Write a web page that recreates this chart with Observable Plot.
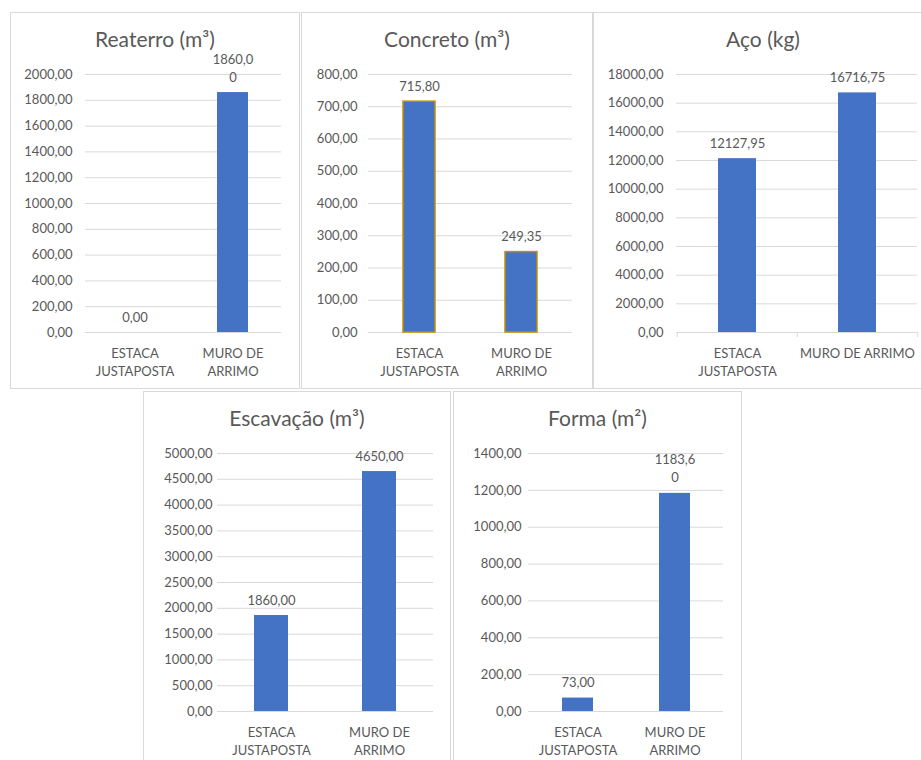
<!DOCTYPE html>
<html>
<head>
<meta charset="utf-8">
<script src="https://cdn.jsdelivr.net/npm/d3@7"></script>
<script src="https://cdn.jsdelivr.net/npm/@observablehq/plot@0.6"></script>
<style>
  html, body { margin: 0; padding: 0; background: #fff; overflow: hidden; }
  #root { position: relative; width: 921px; height: 760px; overflow: hidden; }
  .panel { position: absolute; box-shadow: inset 0 0 0 1px #d9d9d9; background: #fff; }
  .panel svg { position: absolute; left: 0; top: 0; }
  .title { position: absolute; left: 0; right: 0; top: 15px; text-align: center;
           font-family: Lato, "Open Sans", sans-serif; font-size: 21px; line-height: 24px; color: #595959; }
</style>
</head>
<body>
<div id="root"></div>
<script>
// ---- data ----
const categories = ["ESTACA JUSTAPOSTA", "MURO DE ARRIMO"];
const titles = ["Reaterro (m³)", "Concreto (m³)", "Aço (kg)", "Escavação (m³)", "Forma (m²)"];
const reaterro = [0.00, 1860.00];
const concreto = [715.80, 249.35];
const aco = [12127.95, 16716.75];
const escavacao = [1860.00, 4650.00];
const forma = [73.00, 1183.60];
const yMax = [2000, 800, 18000, 5000, 1400];
const yStep = [200, 100, 2000, 500, 200];

const series = [reaterro, concreto, aco, escavacao, forma];

// ---- layout / style ----
const layout = [
  {left: 10,  top: 12,  width: 290, height: 377, mL: 75, mR: 19, mT: 62, mB: 57, tickPad: 13, catWrap: 7,   valWrap: 6},
  {left: 301, top: 12,  width: 292, height: 377, mL: 67, mR: 21, mT: 62, mB: 57, tickPad: 11, catWrap: 7,   valWrap: 99, stroke: "#BF9000"},
  {left: 593, top: 12,  width: 340, height: 377, mL: 83, mR: 16, mT: 62, mB: 57, tickPad: 13, catWrap: 9.5, valWrap: 99, xTicks: true},
  {left: 143, top: 391, width: 308, height: 375, mL: 74, mR: 18, mT: 62, mB: 55, tickPad: 5,  catWrap: 7,   valWrap: 99},
  {left: 453, top: 391, width: 289, height: 375, mL: 75, mR: 19, mT: 62, mB: 55, tickPad: 7,  catWrap: 7,   valWrap: 6}
];

const fmt = v => v.toFixed(2).replace(".", ",");
const TEXT = "#595959";
const GRID = "#d9d9d9";
const BLUE = "#4472C4";
const PAD = 0.685;

const root = document.getElementById("root");

series.forEach((vals, k) => {
  const L = layout[k];
  const data = categories.map((c, i) => ({cat: c, value: vals[i]}));
  const ticks = d3.range(0, yMax[k] + yStep[k] / 2, yStep[k]);
  const label = v => {
    const s = fmt(v);
    return s.length > L.valWrap ? s.slice(0, L.valWrap) + "\n" + s.slice(L.valWrap) : s;
  };
  const step = (L.width - L.mL - L.mR) / categories.length;

  const marks = [
    Plot.gridY(ticks, {stroke: GRID, strokeOpacity: 1, strokeWidth: 1}),
    Plot.axisY({ticks, tickSize: 0, tickPadding: L.tickPad, tickFormat: fmt, fill: TEXT, fontSize: 13}),
    Plot.axisX({tickSize: 0, tickPadding: 12.5, lineWidth: L.catWrap, lineHeight: 1.38, fill: TEXT, fontSize: 13})
  ];
  if (L.xTicks) {
    marks.push(
      Plot.ruleX(categories, {x: d => d, dx: -step / 2, y1: 0, y2: 0, insetBottom: -5, stroke: GRID}),
      Plot.ruleX(categories.slice(-1), {x: d => d, dx: step / 2, y1: 0, y2: 0, insetBottom: -5, stroke: GRID})
    );
  }
  marks.push(
    Plot.barY(data, {x: "cat", y: "value", fill: BLUE,
      stroke: L.stroke || "none", strokeWidth: L.stroke ? 1.5 : 0}),
    Plot.text(data, {x: "cat", y: "value", text: d => label(d.value), dy: -11,
      lineAnchor: "bottom", lineHeight: 1.38, fill: TEXT, fontSize: 13})
  );

  const chart = Plot.plot({
    width: L.width,
    height: L.height,
    marginLeft: L.mL, marginRight: L.mR, marginTop: L.mT, marginBottom: L.mB,
    x: {domain: categories, paddingInner: PAD, paddingOuter: PAD / 2, label: null},
    y: {domain: [0, yMax[k]], label: null},
    style: {fontFamily: "Lato, 'Open Sans', sans-serif", fontSize: "13px", color: TEXT, background: "transparent", overflow: "visible"},
    marks
  });

  const div = document.createElement("div");
  div.className = "panel";
  Object.assign(div.style, {left: L.left + "px", top: L.top + "px", width: L.width + "px", height: L.height + "px"});
  div.appendChild(chart);
  const t = document.createElement("div");
  t.className = "title";
  t.textContent = titles[k];
  div.appendChild(t);
  root.appendChild(div);
});
</script>
</body>
</html>
